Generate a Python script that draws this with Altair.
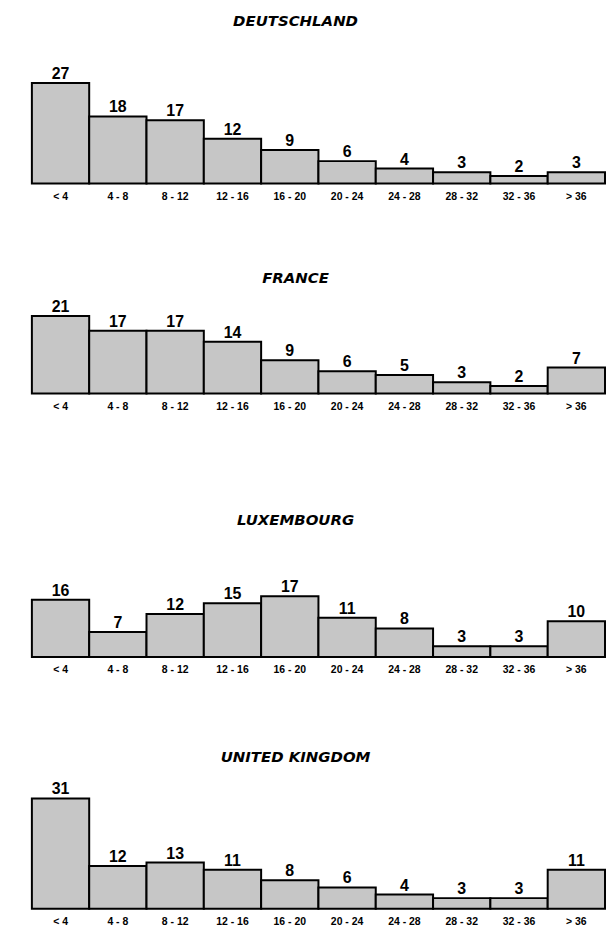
import altair as alt
import pandas as pd

categories = ["< 4", "4 - 8", "8 - 12", "12 - 16", "16 - 20", "20 - 24",
              "24 - 28", "28 - 32", "32 - 36", "> 36"]
countries = ["DEUTSCHLAND", "FRANCE", "LUXEMBOURG", "UNITED KINGDOM"]
deutschland = [27, 18, 17, 12, 9, 6, 4, 3, 2, 3]
france = [21, 17, 17, 14, 9, 6, 5, 3, 2, 7]
luxembourg = [16, 7, 12, 15, 17, 11, 8, 3, 3, 10]
united_kingdom = [31, 12, 13, 11, 8, 6, 4, 3, 3, 11]

series = [deutschland, france, luxembourg, united_kingdom]

# layout per panel: plot height, y-domain max, title pixel offset inside plot
panel_height = [172, 192, 246, 234]
panel_ymax = [46.0, 51.8, 68.3, 65.4]
title_y = [9, 76, 108, 81]

W = 576
FILL = "#c6c6c6"

panels = []
for name, vals, h, ymax, ty in zip(countries, series, panel_height, panel_ymax, title_y):
    df = pd.DataFrame({"cat": categories, "value": vals})
    x = alt.X("cat:N", sort=categories,
              scale=alt.Scale(paddingInner=0, paddingOuter=0),
              axis=alt.Axis(title=None, labelAngle=0, ticks=False, domain=False,
                            labelPadding=8, labelFontSize=10.5, labelFontWeight="bold",
                            labelFont="Liberation Sans", labelColor="black"))
    y = alt.Y("value:Q", scale=alt.Scale(domain=[0, ymax], nice=False), axis=None)
    base = alt.Chart(df)
    bars = base.mark_bar(fill=FILL, stroke="black", strokeWidth=2).encode(x=x, y=y)
    labels = base.mark_text(baseline="alphabetic", dy=-4, fontSize=16, fontWeight="bold",
                            font="Liberation Sans", color="black").encode(
        x=x, y=y, text="value:Q")
    tdf = pd.DataFrame({"t": [name]})
    title = alt.Chart(tdf).mark_text(fontSize=15, fontWeight="bold", fontStyle="italic",
                                     font="DejaVu Sans", baseline="middle", align="center",
                                     color="black").encode(
        text="t:N", x=alt.value(265), y=alt.value(ty))
    panels.append(alt.layer(bars, labels, title).properties(width=W, height=h))

chart = alt.vconcat(*panels, spacing=0).properties(
    padding={"left": 23, "top": 2, "right": 0, "bottom": 5},
    background="white"
).configure_view(stroke="transparent", strokeWidth=0)

chart.save("out.html", embed_options={"renderer": "svg", "actions": False})
